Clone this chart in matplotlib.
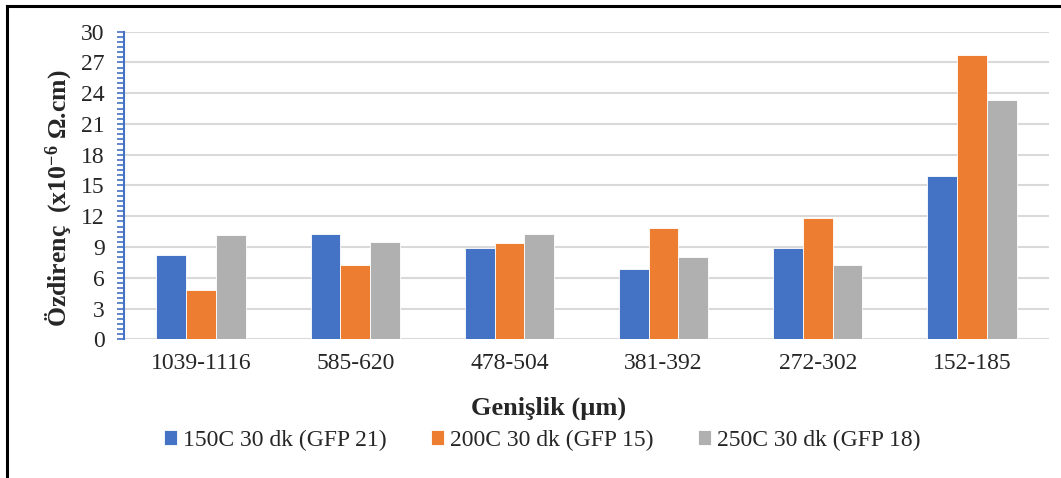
import numpy as np
import matplotlib
matplotlib.use("Agg")
import matplotlib.pyplot as plt
from matplotlib.lines import Line2D
from matplotlib.ticker import MultipleLocator

plt.rcParams["font.family"] = ["Liberation Serif", "DejaVu Serif"]
plt.rcParams["mathtext.fontset"] = "custom"
plt.rcParams["mathtext.rm"] = "Liberation Serif"
plt.rcParams["mathtext.bf"] = "Liberation Serif:bold"
plt.rcParams["mathtext.default"] = "bf"

# widths (um) and resistivity values
categories = ["1039-1116", "585-620", "478-504", "381-392", "272-302", "152-185"]
series_names = ["150C 30 dk (GFP 21)", "200C 30 dk (GFP 15)", "250C 30 dk (GFP 18)"]
vals_150 = [8.2, 10.3, 8.9, 6.9, 8.9, 15.9]
vals_200 = [4.8, 7.2, 9.4, 10.9, 11.8, 27.7]
vals_250 = [10.2, 9.5, 10.3, 8.0, 7.2, 23.3]
colors = ["#4472C4", "#ED7D31", "#B0B0B1"]

fig = plt.figure(figsize=(10.61, 4.78), dpi=100)
ax = fig.add_axes([0.1169, 0.2902, 0.8718, 0.6435])

x = np.arange(len(categories))
w = 0.193
for i, (vals, c, name) in enumerate(zip([vals_150, vals_200, vals_250], colors, series_names)):
    ax.bar(x + (i - 1) * w, vals, width=w, color=c, edgecolor="white",
           linewidth=0.6, label=name, zorder=3)

ax.set_xlim(-0.5, len(categories) - 0.5)
ax.set_ylim(0, 30)
ax.yaxis.set_major_locator(MultipleLocator(3))
ax.yaxis.set_minor_locator(MultipleLocator(0.5))
ax.grid(axis="y", color="#D9D9D9", linewidth=1.5, zorder=0)
ax.set_axisbelow(True)

for s in ["top", "right", "bottom"]:
    ax.spines[s].set_visible(False)
ax.spines["left"].set_color("#4472C4")
ax.spines["left"].set_linewidth(1.5)

ax.set_xticks(x)
ax.set_xticklabels(categories, fontsize=17, color="#262626")
ax.tick_params(axis="x", length=0, pad=10)
ax.tick_params(axis="y", which="both", length=5, width=1.2, color="#4472C4",
               labelsize=17, labelcolor="#262626", pad=9)

fig.text(0.055, 0.585, "Özdirenç  (x10$^{-6}$ Ω.cm)", rotation=90, fontsize=18.5,
         fontweight="bold", ha="center", va="center", color="#262626")
fig.text(0.517, 0.146, "Genişlik (µm)", fontsize=19, fontweight="bold",
         ha="center", va="center", color="#262626")

fig.legend(loc="center", bbox_to_anchor=(0.511, 0.079), ncol=3, frameon=False,
           fontsize=17, handlelength=0.55, handleheight=0.55, handletextpad=0.25,
           columnspacing=1.9, labelcolor="#262626")

# outer chart frame (left and top edges visible)
fig.add_artist(Line2D([7 / 1061, 7 / 1061], [0, 1 - 6 / 478], color="black",
                      linewidth=2.2, transform=fig.transFigure))
fig.add_artist(Line2D([7 / 1061, 1], [1 - 6 / 478, 1 - 6 / 478], color="black",
                      linewidth=2.2, transform=fig.transFigure))

fig.savefig("out.png", dpi=100)
